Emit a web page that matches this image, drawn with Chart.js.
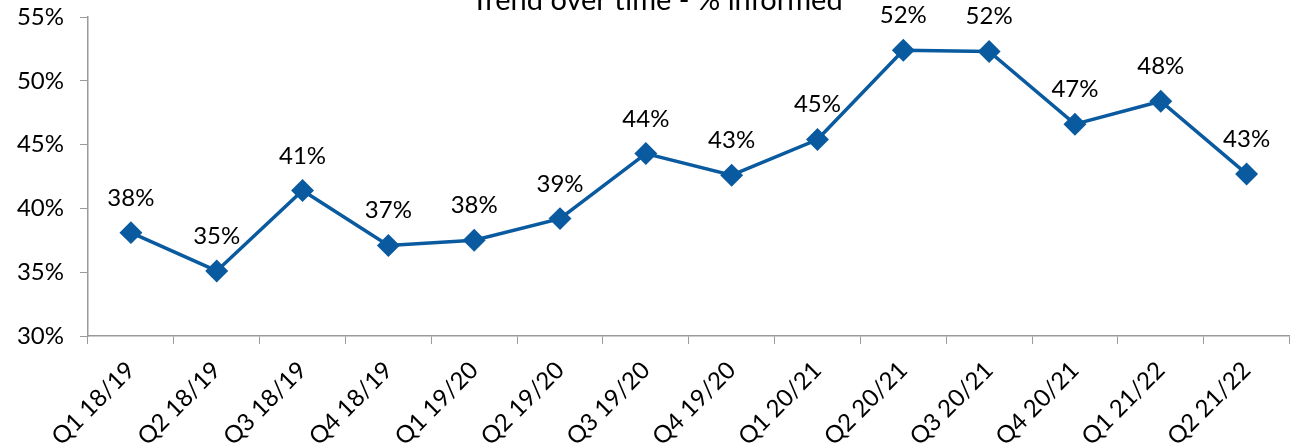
<!DOCTYPE html>
<html>
<head>
<meta charset="utf-8">
<script src="https://cdn.jsdelivr.net/npm/chart.js@4/dist/chart.umd.min.js"></script>
<style>
  html, body { margin: 0; padding: 0; background: #fff; }
  #wrap { width: 1302px; height: 448px; position: relative; }
</style>
</head>
<body>
<div id="wrap"><canvas id="myChart"></canvas></div>
<script>
var titulo = 'Trend over time - % informed';
var trimestres = ['Q1 18/19', 'Q2 18/19', 'Q3 18/19', 'Q4 18/19', 'Q1 19/20', 'Q2 19/20', 'Q3 19/20',
  'Q4 19/20', 'Q1 20/21', 'Q2 20/21', 'Q3 20/21', 'Q4 20/21', 'Q1 21/22', 'Q2 21/22'];
var informados = [38.1, 35.1, 41.4, 37.1, 37.5, 39.2, 44.3, 42.6, 45.4, 52.4, 52.3, 46.6, 48.4, 42.7];
var yMin = 30, yMax = 55, yPaso = 5;

var fuente = 'Lato, "Open Sans", sans-serif';
var azul = '#0a5aa0';
var gris = '#9a9a9a';

// titulo y etiquetas de datos dibujados a mano (sin plugin de datalabels)
var etiquetas = {
  id: 'etiquetas',
  afterDatasetsDraw: function (chart) {
    var ctx = chart.ctx;
    var meta = chart.getDatasetMeta(0);
    ctx.save();
    ctx.fillStyle = '#000';
    ctx.font = '24px ' + fuente;
    ctx.textAlign = 'center';
    ctx.textBaseline = 'alphabetic';
    meta.data.forEach(function (p, i) {
      ctx.fillText(Math.round(informados[i]) + '%', p.x, p.y - 27);
    });
    ctx.font = '29px ' + fuente;
    ctx.fillText(titulo, 657, 10);
    ctx.restore();
  }
};

var ctx = document.getElementById('myChart').getContext('2d');
var chart = new Chart(ctx, {
  type: 'line',
  data: {
    labels: trimestres,
    datasets: [{
      data: informados,
      borderColor: azul,
      backgroundColor: azul,
      borderWidth: 3.5,
      pointStyle: 'rectRot',
      pointRadius: 9,
      pointHoverRadius: 9,
      tension: 0
    }]
  },
  options: {
    responsive: true,
    maintainAspectRatio: false,
    animation: false,
    layout: { padding: { top: 0, right: 3, left: 0, bottom: 0 } },
    plugins: {
      legend: { display: false },
      tooltip: { enabled: false },
      title: { display: false }
    },
    scales: {
      x: {
        offset: true,
        grid: { display: true, offset: true, drawOnChartArea: false, drawTicks: true, tickLength: 8, color: gris },
        border: { color: gris, width: 1.5 },
        ticks: {
          color: '#000',
          font: { family: fuente, size: 24 },
          maxRotation: 45,
          minRotation: 45,
          padding: 12,
          autoSkip: false
        },
        afterFit: function (s) { s.height = 112; }
      },
      y: {
        min: yMin,
        max: yMax,
        grid: { display: true, drawOnChartArea: false, drawTicks: true, tickLength: 8, color: gris },
        border: { color: gris, width: 1.5 },
        ticks: {
          stepSize: yPaso,
          color: '#000',
          font: { family: fuente, size: 24 },
          padding: 16,
          callback: function (v) { return v + '%'; }
        },
        afterFit: function (s) {
          s.width = 88;
          s.paddingTop = 17;
          s.paddingBottom = 0;
        }
      }
    }
  },
  plugins: [etiquetas]
});
</script>
</body>
</html>
